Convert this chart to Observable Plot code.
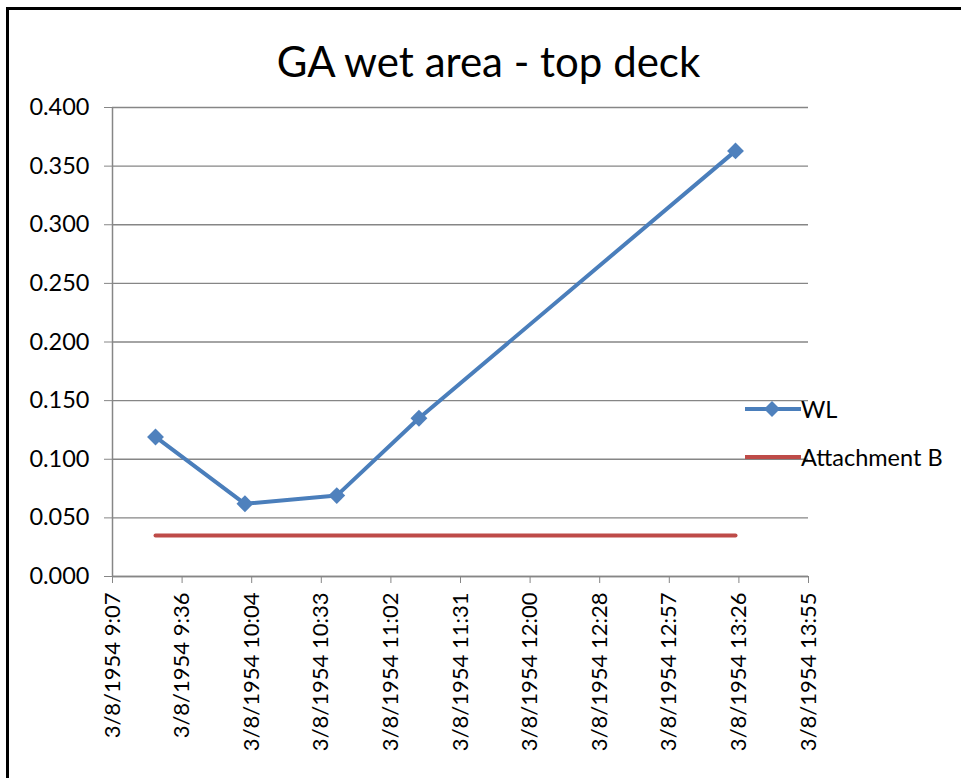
<!DOCTYPE html>
<html>
<head>
<meta charset="utf-8">
<script src="https://cdn.jsdelivr.net/npm/d3@7"></script>
<script src="https://cdn.jsdelivr.net/npm/@observablehq/plot@0.6"></script>
<style>
  html, body { margin: 0; padding: 0; background: #fff; overflow: hidden; }
  #wrap { position: relative; width: 961px; height: 778px; font-family: Lato, "Open Sans", sans-serif; }
  #border { position: absolute; left: 6px; top: 7px; width: 1000px; height: 800px;
            border-top: 3px solid #000; border-left: 3px solid #000; box-sizing: border-box; pointer-events: none; }
  #title { height: 52px; padding-top: 38px; text-align: center; font-size: 42px; line-height: 46px; color: #000; padding-left: 16px; white-space: nowrap; }
  #legend { position: absolute; left: 745px; top: 396px; font-size: 23.5px; color: #000; }
  #legend .row { display: flex; align-items: center; height: 26px; }
  #legend .row + .row { margin-top: 22px; }
  svg g[aria-label="y-axis tick"], svg g[aria-label="x-axis tick"] { stroke: #868686; }
</style>
</head>
<body>
<div id="wrap">
  <div id="title">GA wet area - top deck</div>
  <div id="chart"></div>
  <div id="legend"></div>
  <div id="border"></div>
</div>
<script>
// ---- data ----
const wlTimes = ["1954-03-08T09:25:00Z", "1954-03-08T10:02:00Z", "1954-03-08T10:40:00Z", "1954-03-08T11:14:00Z", "1954-03-08T13:25:00Z"];
const wlValues = [0.119, 0.062, 0.069, 0.135, 0.363];
const attachmentBValues = [0.035, 0.035, 0.035, 0.035, 0.035];
const seriesNames = ["WL", "Attachment B"];
const seriesColors = ["#4A7EBB", "#BE4B48"];

const xTickTimes = ["1954-03-08T09:07:12Z", "1954-03-08T09:36:00Z", "1954-03-08T10:04:48Z", "1954-03-08T10:33:36Z",
  "1954-03-08T11:02:24Z", "1954-03-08T11:31:12Z", "1954-03-08T12:00:00Z", "1954-03-08T12:28:48Z",
  "1954-03-08T12:57:36Z", "1954-03-08T13:26:24Z", "1954-03-08T13:55:12Z"];
const xTickLabels = ["3/8/1954 9:07", "3/8/1954 9:36", "3/8/1954 10:04", "3/8/1954 10:33", "3/8/1954 11:02",
  "3/8/1954 11:31", "3/8/1954 12:00", "3/8/1954 12:28", "3/8/1954 12:57", "3/8/1954 13:26", "3/8/1954 13:55"];
const yTicks = [0, 0.05, 0.1, 0.15, 0.2, 0.25, 0.3, 0.35, 0.4];
const yTickLabels = ["0.000", "0.050", "0.100", "0.150", "0.200", "0.250", "0.300", "0.350", "0.400"];

// ---- tables ----
const xTicks = xTickTimes.map(s => new Date(s));
const wl = wlTimes.map((t, i) => ({ time: new Date(t), value: wlValues[i] }));
const attB = wlTimes.map((t, i) => ({ time: new Date(t), value: attachmentBValues[i] }));
const xLabelOf = d => { const i = xTicks.findIndex(t => +t === +d); return i >= 0 ? xTickLabels[i] : ""; };
const yLabelOf = d => { const i = yTicks.findIndex(t => Math.abs(t - d) < 1e-9); return i >= 0 ? yTickLabels[i] : ""; };

const chart = Plot.plot({
  width: 961,
  height: 688,
  marginLeft: 112,
  marginRight: 153,
  marginTop: 17,
  marginBottom: 202,
  style: { fontFamily: "Lato, 'Open Sans', sans-serif", fontSize: "23px", color: "#000", background: "#fff", overflow: "visible" },
  x: { type: "utc", domain: [xTicks[0], xTicks[xTicks.length - 1]] },
  y: { domain: [0, 0.4] },
  marks: [
    Plot.gridY(yTicks, { stroke: "#868686", strokeOpacity: 1, strokeWidth: 1.3 }),
    Plot.ruleX([xTicks[0]], { stroke: "#868686", strokeWidth: 1.5 }),
    Plot.ruleY([0], { stroke: "#868686", strokeWidth: 1.5 }),
    Plot.axisY({ ticks: yTicks, tickFormat: yLabelOf, tickSize: 8, tickPadding: 15, label: null, fontSize: 23.5 }),
    Plot.axisX({ ticks: xTicks, tickFormat: xLabelOf, tickSize: 7, tickPadding: 9, tickRotate: -90, label: null, fontSize: 22 }),
    Plot.line(attB, { x: "time", y: "value", stroke: seriesColors[1], strokeWidth: 4 }),
    Plot.line(wl, { x: "time", y: "value", stroke: seriesColors[0], strokeWidth: 4 }),
    Plot.dot(wl, { x: "time", y: "value", symbol: "diamond2", r: 7.6, fill: "#4F81BD", stroke: "none" })
  ]
});
document.getElementById("chart").appendChild(chart);

// ---- legend ----
const legend = document.getElementById("legend");
seriesNames.forEach((name, i) => {
  const row = document.createElement("div");
  row.className = "row";
  const marker = i === 0 ? `<path d="M27,4 L35,12 L27,20 L19,12 Z" fill="#4F81BD"/>` : "";
  row.innerHTML = `<svg width="56" height="24"><line x1="0" x2="56" y1="12" y2="12" stroke="${seriesColors[i]}" stroke-width="4"/>${marker}</svg><span>${name}</span>`;
  legend.appendChild(row);
});
</script>
</body>
</html>
